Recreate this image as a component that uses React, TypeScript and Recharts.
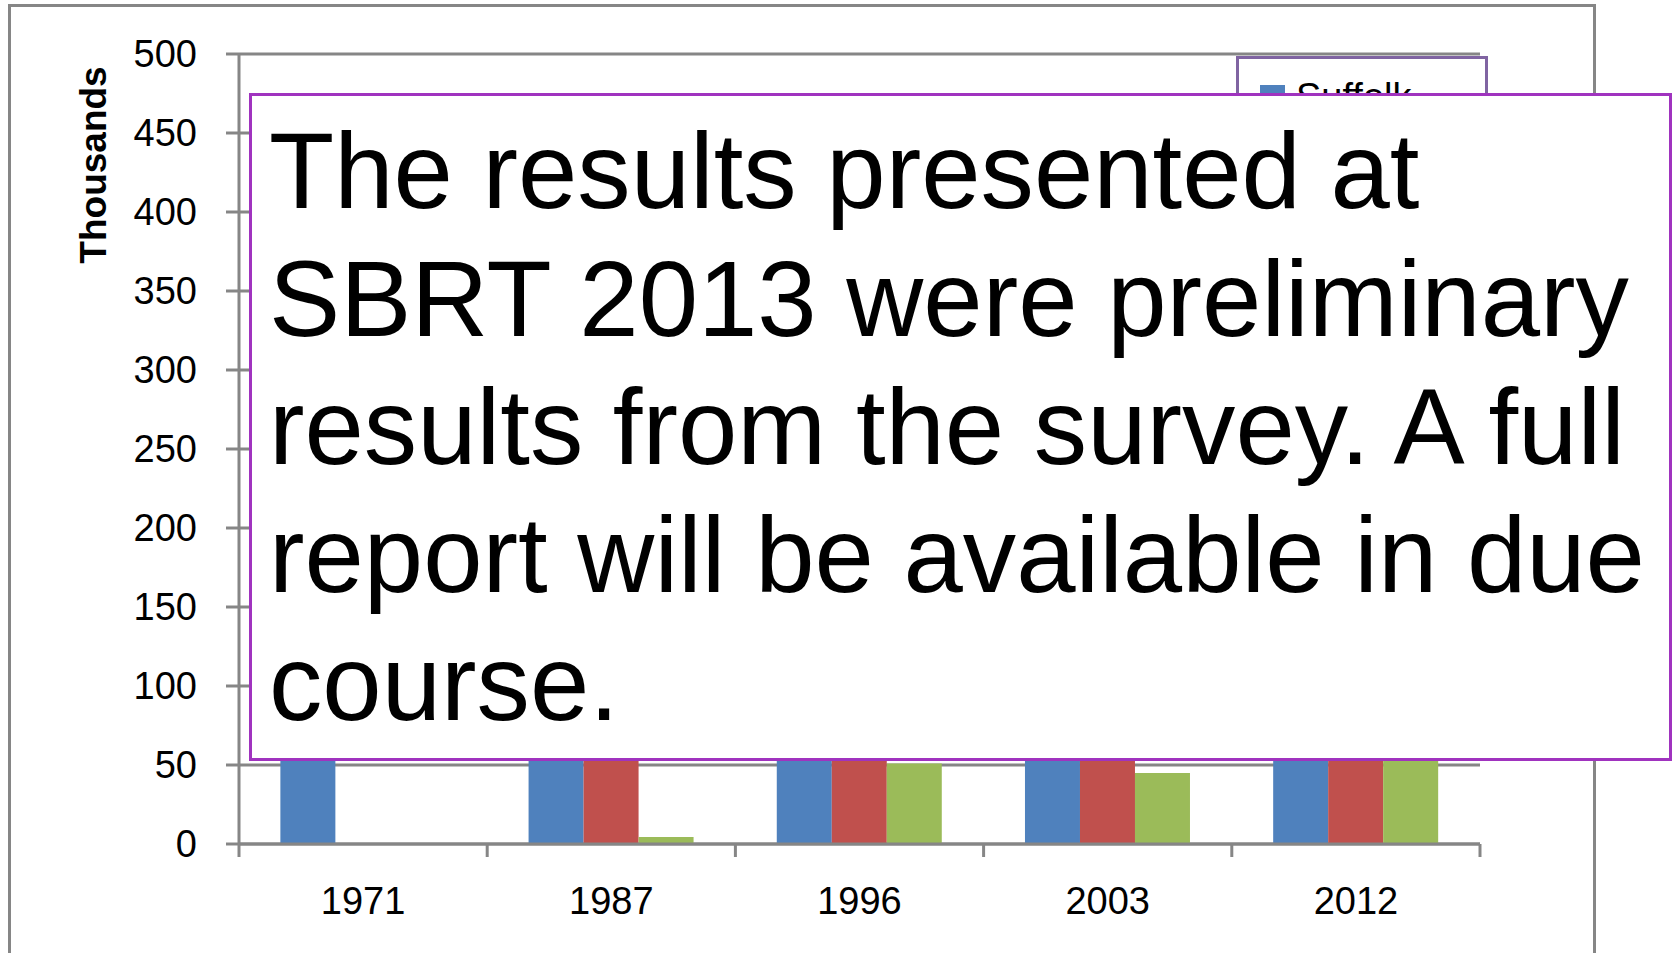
import React from 'react'
import { BarChart, Bar, XAxis, YAxis, CartesianGrid, Legend } from 'recharts'

// survey counts in thousands (most bar tops are hidden behind the notice box)
const years = ['1971', '1987', '1996', '2003', '2012']
const suffolk = [170, 205, 240, 262, 285]
const norfolk = [null, 140, 175, 192, 210]
const essex = [null, 4.4, 51, 45, 70]
const yTicks = [0, 50, 100, 150, 200, 250, 300, 350, 400, 450, 500]

const seriesNames = ['Suffolk', 'Norfolk', 'Essex']
const seriesColors = ['#4F81BD', '#C0504D', '#9BBB59']

const noticeLines = [
  'The results presented at',
  'SBRT 2013 were preliminary',
  'results from the survey. A full',
  'report will be available in due',
  'course.',
]

const data = years.map((year, i) => ({
  year,
  Suffolk: suffolk[i],
  Norfolk: norfolk[i],
  Essex: essex[i],
}))

const FONT = '"Liberation Sans", Arial, sans-serif'
const AXIS_GREY = '#868686'
const PLOT_LEFT = 239
const PLOT_RIGHT = 1480
const BAND = (PLOT_RIGHT - PLOT_LEFT) / years.length
const TICK_SIZE = 13
const X_TICK_MARGIN = 30

// Excel-style category ticks: marks sit on the band edges, labels in the middle
function YearTick(props: any) {
  const { x, y, payload, index } = props
  const axisY = y - TICK_SIZE - X_TICK_MARGIN
  const left = x - BAND / 2
  return (
    <g>
      <line x1={left} x2={left} y1={axisY} y2={axisY + TICK_SIZE} stroke={AXIS_GREY} strokeWidth={3} />
      {index === years.length - 1 && (
        <line x1={left + BAND} x2={left + BAND} y1={axisY} y2={axisY + TICK_SIZE} stroke={AXIS_GREY} strokeWidth={3} />
      )}
      <text x={x} y={y} dy="0.71em" textAnchor="middle" fill="#000" fontSize={38} fontFamily={FONT}>
        {payload.value}
      </text>
    </g>
  )
}

function ThousandsLabel() {
  return (
    <text
      x={106}
      y={165}
      transform="rotate(-90 106 165)"
      textAnchor="middle"
      fontSize={37}
      fontWeight="bold"
      fontFamily={FONT}
      fill="#000"
    >
      Thousands
    </text>
  )
}

// only the top strip of the legend peeks out above the notice box
function LegendBox() {
  return (
    <div style={{ width: 252, height: 37, overflow: 'hidden' }}>
      <div
        style={{
          boxSizing: 'border-box',
          width: 252,
          height: 180,
          border: '3px solid #8064A2',
          background: '#fff',
          padding: '14px 0 0 21px',
          fontFamily: FONT,
          fontSize: 38,
        }}
      >
        {seriesNames.map((name, i) => (
          <div key={name} style={{ display: 'flex', alignItems: 'center', height: 48 }}>
            <span style={{ width: 25, height: 25, background: seriesColors[i], marginRight: 11 }} />
            <span>{name}</span>
          </div>
        ))}
      </div>
    </div>
  )
}

export default function App() {
  return (
    <div style={{ position: 'absolute', left: 0, top: 0, width: 1676, height: 953, overflow: 'hidden', background: '#fff' }}>
      <div
        style={{
          position: 'absolute',
          left: 8,
          top: 4,
          width: 1588,
          height: 1000,
          boxSizing: 'border-box',
          border: `3px solid ${AXIS_GREY}`,
        }}
      />
      <div style={{ position: 'absolute', left: 0, top: 0 }}>
        <BarChart
          width={1676}
          height={953}
          data={data}
          margin={{ top: 54, right: 1676 - PLOT_RIGHT, bottom: 49, left: PLOT_LEFT - 150 }}
          barCategoryGap="16.67%"
          barGap={0}
        >
          <CartesianGrid vertical={false} stroke={AXIS_GREY} strokeWidth={3} />
          <XAxis
            dataKey="year"
            height={60}
            axisLine={{ stroke: AXIS_GREY, strokeWidth: 3 }}
            tickLine={false}
            tickSize={TICK_SIZE}
            tickMargin={X_TICK_MARGIN}
            tick={<YearTick />}
            interval={0}
          />
          <YAxis
            width={150}
            domain={[0, 500]}
            ticks={yTicks}
            interval={0}
            axisLine={{ stroke: AXIS_GREY, strokeWidth: 3 }}
            tickLine={{ stroke: AXIS_GREY, strokeWidth: 3 }}
            tickSize={TICK_SIZE}
            tickMargin={29}
            tick={{ fill: '#000', fontSize: 38, fontFamily: FONT }}
            label={<ThousandsLabel />}
          />
          <Legend
            layout="vertical"
            align="center"
            verticalAlign="middle"
            content={() => <LegendBox />}
            wrapperStyle={{ left: 1236, top: 56, width: 252, height: 37 }}
          />
          {seriesNames.map((name, i) => (
            <Bar key={name} dataKey={name} fill={seriesColors[i]} isAnimationActive={false} />
          ))}
        </BarChart>
      </div>
      <div
        style={{
          position: 'absolute',
          zIndex: 5,
          left: 249,
          top: 93,
          width: 1423,
          height: 668,
          boxSizing: 'border-box',
          border: '3px solid #A033BF',
          background: '#fff',
          padding: '11px 0 0 17px',
          fontFamily: FONT,
          fontSize: 106.7,
          lineHeight: '128px',
          color: '#000',
          whiteSpace: 'nowrap',
        }}
      >
        {noticeLines.map((line) => (
          <div key={line}>{line}</div>
        ))}
      </div>
    </div>
  )
}
